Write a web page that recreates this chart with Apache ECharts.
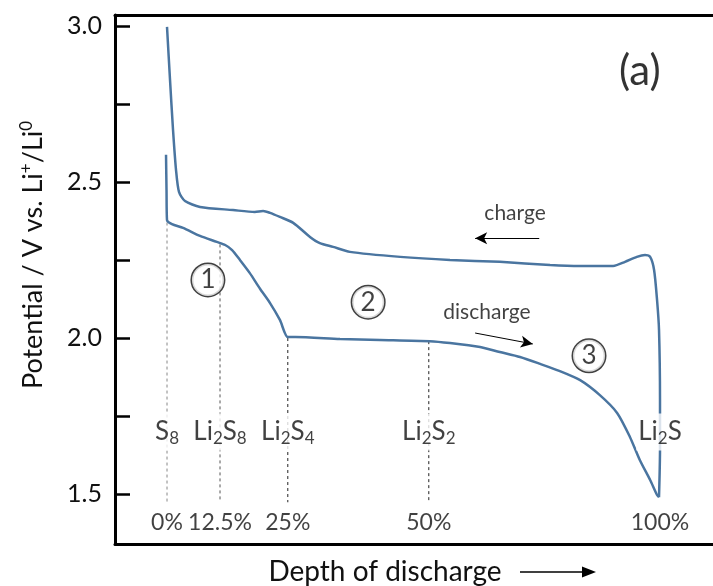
<!DOCTYPE html>
<html><head><meta charset="utf-8">
<script src="https://cdn.jsdelivr.net/npm/echarts@6/dist/echarts.min.js"></script>
<style>html,body{margin:0;padding:0;background:#fff}#c{width:713px;height:586px}</style>
</head><body><div id="c"></div>
<script>
// schematic position along x: 0 = S8 (0%), 100 = Li2S (100%)
const dischargeX = [-0.2,-0.1,0,1.0,3.25,6.7,10.1,11.8,13.2,14.8,16.8,18.9,20.9,22.9,24.5,26.0,35.1,43.2,53.3,57.4,63.5,67.5,71.6,75.7,79.7,83.8,87.8,91.3,93.9,95.9,98.0,99.4,99.8];
const dischargeV = [2.587,2.474,2.378,2.365,2.353,2.327,2.308,2.298,2.282,2.25,2.208,2.157,2.112,2.058,2.003,2.003,1.997,1.994,1.99,1.984,1.971,1.955,1.939,1.917,1.894,1.865,1.817,1.76,1.683,1.609,1.545,1.497,1.49];
const chargeX = [99.8,100.0,100.0,99.8,99.4,98.8,98.0,96.96,95.3,92.9,90.5,83.8,77.7,67.5,57.4,47.3,37.1,33.7,31.0,29.0,25.6,22.9,20.9,19.5,17.8,13.4,6.7,3.65,2.43,1.83,1.22,0.61,0];
const chargeV = [1.49,1.641,1.801,2.026,2.122,2.218,2.26,2.266,2.26,2.244,2.231,2.231,2.234,2.244,2.25,2.26,2.276,2.292,2.304,2.324,2.369,2.388,2.401,2.407,2.404,2.41,2.42,2.439,2.468,2.538,2.667,2.827,2.997];

const stageX = [0, 10.75, 24.5, 53.1, 100];
const stageTopV = [2.37, 2.30, 2.0, 1.99, null];
const stageLabels = ['S{s|8}', 'Li{s|2}S{s|8}', 'Li{s|2}S{s|4}', 'Li{s|2}S{s|2}', 'Li{s|2}S'];
const pctLabels = ['0%', '12.5%', '25%', '50%', '100%'];
const dashColors = ['#888', '#555', '#222', '#222'];

const yTicks = [1.5, 1.75, 2.0, 2.25, 2.5, 2.75, 3.0];
const yTickLabels = [1.5, 2.0, 2.5, 3.0];

const regionNames = ['1', '2', '3'];
const regionX = [8.3, 40.8, 85.6];
const regionV = [2.186, 2.115, 1.943];

const textNotes = ['charge', 'discharge'];
const textX = [70.6, 64.9];
const textV = [2.40, 2.083];
const arrowStart = [[75.5, 2.32], [62.5, 2.016]];
const arrowEnd = [[62.5, 2.32], [74.2, 1.981]];

const FONT = 'Lato';
const TXT = '#111';
const lineColor = '#4a75a0';
const speciesV = 1.699, pctV = 1.41, dashBottomV = 1.474;

const chart = echarts.init(document.getElementById('c'));
const series = [];
series.push({type:'line', name:'discharge', data: dischargeX.map((x,i)=>[x, dischargeV[i]]), showSymbol:false, smooth:0.25, lineStyle:{color:lineColor, width:2.5}, z:3});
series.push({type:'line', name:'charge', data: chargeX.map((x,i)=>[x, chargeV[i]]), showSymbol:false, smooth:0.25, lineStyle:{color:lineColor, width:2.5}, z:3});
stageX.slice(0,4).forEach((x,i)=>{
  series.push({type:'line', data:[[x, stageTopV[i]], [x, dashBottomV]], showSymbol:false, silent:true,
    lineStyle:{color:dashColors[i], width:1, type:[3,3]}, z:2});
});
const sub = {fontSize:17, lineHeight:10, verticalAlign:'bottom', fontFamily:FONT, color:TXT};
series.push({type:'scatter', symbolSize:0, z:10, data: stageX.map((x,i)=>({value:[x, speciesV], label:{formatter: stageLabels[i]}})),
  label:{show:true, position:'inside', backgroundColor:'#fff', padding:[3,2,3,2], fontFamily:FONT, fontSize:26, lineHeight:31, color:TXT, rich:{s:sub}}});
series.push({type:'scatter', symbolSize:0, z:10, data: stageX.map((x,i)=>({value:[x, pctV], label:{formatter: pctLabels[i]}})),
  label:{show:true, position:'inside', fontFamily:FONT, fontSize:23, color:TXT}});
series.push({type:'scatter', symbolSize:0, z:10, data: regionX.map((x,i)=>({value:[x, regionV[i]], label:{formatter: regionNames[i]}})),
  label:{show:true, position:'inside', fontFamily:FONT, fontSize:26, color:TXT, width:32, height:32, lineHeight:32, align:'center', verticalAlign:'middle',
    borderColor:'#111', borderWidth:1.5, borderRadius:17, backgroundColor:'#fff'}});
series.push({type:'scatter', symbolSize:0, z:10, data: textX.map((x,i)=>({value:[x, textV[i]], label:{formatter: textNotes[i]}})),
  label:{show:true, position:'inside', fontFamily:FONT, fontSize:21, color:TXT},
  markLine:{silent:true, symbol:['none','arrow'], symbolSize:[9,12], label:{show:false},
    lineStyle:{color:'#000', width:1, type:'solid'},
    data: arrowStart.map((s,i)=>[{coord:s}, {coord:arrowEnd[i]}])}});
series.push({type:'scatter', symbolSize:0, z:10, data:[{value:[95.9, 2.853], label:{formatter:'(a)'}}],
  label:{show:true, position:'inside', fontFamily:FONT, fontSize:42, color:'#000'}});

chart.setOption({
  animation:false,
  backgroundColor:'#fff',
  grid:{left:115, right:0, top:15, bottom:42, outerBoundsMode:'none'},
  xAxis:[
    {type:'value', min:-10.55, max:110.75, position:'bottom', axisLine:{show:true, onZero:false, lineStyle:{color:'#000', width:3}}, axisTick:{show:false}, axisLabel:{show:false}, splitLine:{show:false}},
    {type:'value', min:-10.55, max:110.75, position:'top', axisLine:{show:true, onZero:false, lineStyle:{color:'#000', width:3}}, axisTick:{show:false}, axisLabel:{show:false}, splitLine:{show:false}}
  ],
  yAxis:{type:'value', min:1.34, max:3.035,
    axisLine:{show:true, onZero:false, lineStyle:{color:'#000', width:3}},
    axisTick:{show:true, inside:true, length:15, lineStyle:{color:'#000', width:2.5}, customValues:yTicks},
    axisLabel:{show:true, customValues:yTickLabels, formatter:v=>Number(v).toFixed(1), fontFamily:FONT, fontSize:25, color:TXT, margin:13},
    splitLine:{show:false}},
  graphic:[
    {type:'text', x:33, y:255, rotation:Math.PI/2, style:{text:'Potential / V vs. Li{p|+}/Li{p|0}', fontFamily:FONT, fontSize:27, lineHeight:30, fill:TXT, align:'center', verticalAlign:'middle',
      rich:{p:{fontSize:17, lineHeight:12, verticalAlign:'top', fontFamily:FONT, fill:TXT}}}},
    {type:'text', x:385, y:572, style:{text:'Depth of discharge', fontFamily:FONT, fontSize:28, fill:TXT, align:'center', verticalAlign:'middle'}},
    {type:'line', shape:{x1:520, y1:572, x2:584, y2:572}, style:{stroke:'#000', lineWidth:1.5}},
    {type:'polygon', shape:{points:[[596,572],[582,566.5],[582,577.5]]}, style:{fill:'#000'}}
  ],
  series: series
});
</script></body></html>
